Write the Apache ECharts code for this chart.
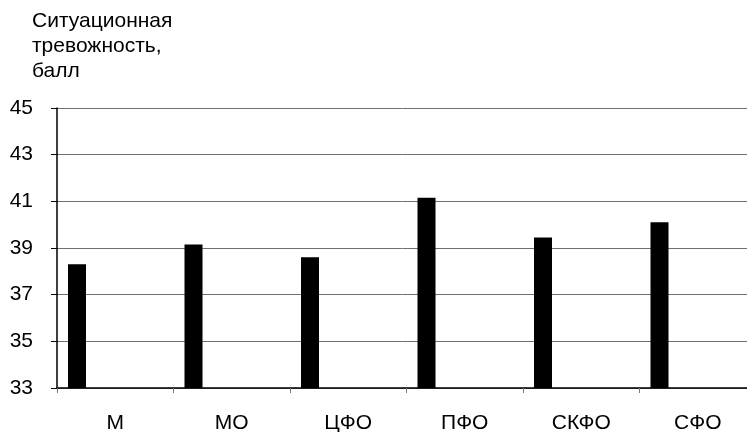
<!DOCTYPE html>
<html>
<head>
<meta charset="utf-8">
<script src="https://cdn.jsdelivr.net/npm/echarts@6/dist/echarts.min.js"></script>
<style>html,body{margin:0;padding:0;background:#fff;}#c{width:747px;height:432px;}</style>
</head>
<body>
<div id="c"></div>
<script>
var categories = ['М', 'МО', 'ЦФО', 'ПФО', 'СКФО', 'СФО'];
var values = [38.3, 39.15, 38.6, 41.15, 39.45, 40.1];
var emptyValues = ['-', '-', '-', '-', '-', '-'];
var yTitle = 'Ситуационная\nтревожность,\nбалл';

var chart = echarts.init(document.getElementById('c'));
chart.setOption({
  animation: false,
  backgroundColor: '#fff',
  title: {
    text: yTitle,
    left: 32, top: 9, padding: 0,
    textStyle: { fontFamily: 'Liberation Sans', fontSize: 21, fontWeight: 'normal', color: '#000', lineHeight: 25 }
  },
  grid: { left: 57, width: 699, top: 108, bottom: 44, containLabel: false, outerBoundsMode: 'none' },
  xAxis: {
    type: 'category',
    data: categories,
    axisLine: { lineStyle: { color: '#000', width: 1.5 } },
    axisTick: { show: true, length: 5, lineStyle: { color: '#777' } },
    axisLabel: { fontFamily: 'Liberation Sans', fontSize: 21, color: '#000', margin: 25 },
    splitLine: { show: false }
  },
  yAxis: {
    type: 'value',
    min: 33, max: 45, interval: 2,
    axisLine: { show: true, lineStyle: { color: '#000', width: 1.5 } },
    axisTick: { show: true, length: 6, lineStyle: { color: '#000' } },
    axisLabel: { fontFamily: 'Liberation Sans', fontSize: 21, color: '#000', margin: 24 },
    splitLine: { show: true, lineStyle: { color: '#707070', width: 1 } }
  },
  series: [
    { type: 'bar', data: values, barWidth: 18, barGap: '325%', itemStyle: { color: '#000' } },
    { type: 'bar', data: emptyValues, barWidth: 18, itemStyle: { color: '#000' } }
  ]
});
</script>
</body>
</html>
